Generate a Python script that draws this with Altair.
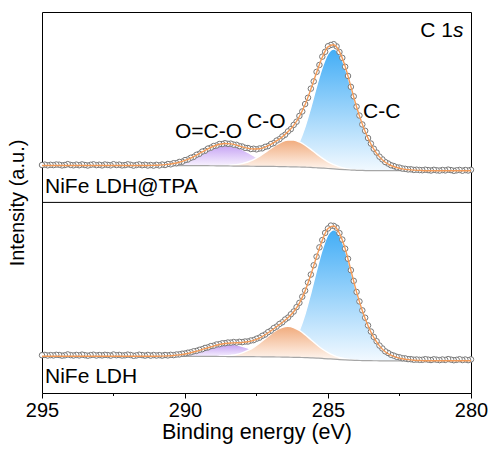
import altair as alt
import numpy as np
import pandas as pd

# ---------------- data (intensity in arbitrary units) ----------------
X_MIN = 280.0
GRID_STEP = 0.2   # eV, grid of the fitted curves
DATA_STEP = 0.1   # eV, measured points
TOP_OFFSET = 190.0  # vertical stacking offset of the upper spectrum

# Shirley background, 280.0 -> 295.0 eV every 0.2 eV
bg_top = [
    31.2, 31.2, 31.2, 31.2, 31.2, 31.2, 31.2, 31.2, 31.2, 31.2,
    31.2, 31.2, 31.2, 31.2, 31.21, 31.22, 31.24, 31.27, 31.34, 31.46,
    31.64, 31.88, 32.20, 32.58, 33.00, 33.41, 33.81, 34.17, 34.46, 34.71,
    34.90, 35.06, 35.19, 35.30, 35.40, 35.48, 35.54, 35.61, 35.67, 35.72,
    35.79, 35.86, 35.93, 36.01, 36.08, 36.16, 36.22, 36.27, 36.31, 36.34,
    36.37, 36.38, 36.39, 36.4, 36.4, 36.4, 36.4, 36.4, 36.4, 36.4,
    36.4, 36.4, 36.4, 36.4, 36.4, 36.4, 36.4, 36.4, 36.4, 36.4,
    36.4, 36.4, 36.4, 36.4, 36.4, 36.4,
]
bg_bot = [
    31.0, 31.0, 31.0, 31.0, 31.0, 31.0, 31.0, 31.0, 31.0, 31.0,
    31.0, 31.0, 31.0, 31.0, 31.01, 31.01, 31.03, 31.07, 31.13, 31.24,
    31.40, 31.62, 31.91, 32.26, 32.64, 33.02, 33.38, 33.70, 33.97, 34.19,
    34.37, 34.51, 34.64, 34.75, 34.84, 34.92, 34.99, 35.05, 35.10, 35.14,
    35.18, 35.23, 35.26, 35.30, 35.34, 35.37, 35.40, 35.42, 35.44, 35.45,
    35.46, 35.47, 35.47, 35.48, 35.49, 35.5, 35.5, 35.5, 35.5, 35.5,
    35.5, 35.5, 35.5, 35.5, 35.5, 35.5, 35.5, 35.5, 35.5, 35.5,
    35.5, 35.5, 35.5, 35.5, 35.5, 35.5,
]

# fitted components: start energy (eV) and heights every 0.2 eV
cc_top_start = 281.8
cc_top = [0.3, 0.6, 1.1, 1.9, 3.2, 5.2, 8.4, 13.8, 21.6, 32.4,
          46.2, 63.0, 82.8, 102.0, 115.2, 120.0, 115.0, 100.9, 81.4, 60.1,
          40.7, 25.3, 14.4, 7.5, 3.6, 1.6, 0.6, 0.24]
co_top_start = 283.8
co_top = [0.16, 0.35, 0.7, 1.4, 2.5, 4.2, 6.7, 10.0, 13.9, 18.1,
          22.0, 25.1, 26.8, 26.8, 25.1, 22.0, 18.1, 13.9, 10.0, 6.7,
          4.2, 2.5, 1.4, 0.7, 0.35, 0.16]
oco_top_start = 286.0
oco_top = [0.15, 0.3, 0.6, 1.1, 2.0, 3.3, 5.1, 7.5, 10.5, 13.7,
           16.8, 19.5, 21.4, 22.0, 21.4, 19.5, 16.8, 13.7, 10.5, 7.5,
           5.1, 3.3, 2.0, 1.1, 0.6, 0.3, 0.15]

cc_bot_start = 281.8
cc_bot = [0.3, 0.6, 1.2, 2.1, 3.5, 5.6, 9.1, 14.9, 23.3, 35.0,
          49.9, 68.0, 89.4, 110.1, 124.3, 129.5, 124.1, 108.9, 87.8, 64.9,
          43.9, 27.3, 15.5, 8.1, 3.9, 1.7, 0.7, 0.26]
co_bot_start = 284.0
co_bot = [0.27, 0.6, 1.2, 2.1, 3.8, 6.2, 9.4, 13.6, 18.2, 22.9,
          27.0, 29.8, 30.8, 29.8, 27.0, 22.9, 18.2, 13.6, 9.4, 6.2,
          3.8, 2.1, 1.2, 0.6, 0.27]
oco_bot_start = 286.0
oco_bot = [0.12, 0.25, 0.47, 0.85, 1.5, 2.4, 3.6, 5.1, 6.9, 8.7,
           10.4, 11.7, 12.4, 12.4, 11.7, 10.4, 8.7, 6.9, 5.1, 3.6,
           2.4, 1.5, 0.85, 0.47, 0.25, 0.12]

# measured spectra, 280.0 -> 295.0 eV every 0.1 eV
meas_top = [
    32.1, 31.4, 31.9, 31.2, 32.0, 31.6, 31.1, 31.8, 32.3, 31.5,
    31.9, 31.3, 31.6, 32.1, 31.4, 31.8, 32.2, 31.7, 31.9, 32.2,
    32.0, 32.6, 32.5, 33.1, 33.4, 34.3, 34.6, 35.9, 36.7, 38.4,
    39.9, 42.6, 45.3, 49.4, 53.2, 58.4, 63.9, 71.1, 77.5, 86.4,
    95.3, 105.6, 115.1, 126.0, 135.2, 144.1, 150.0, 155.6, 157.8, 157.0,
    155.7, 150.2, 145.3, 137.0, 130.1, 120.6, 113.3, 104.2, 97.9, 90.5,
    86.0, 80.2, 77.0, 72.8, 70.5, 67.2, 65.4, 62.7, 61.3, 58.8,
    57.8, 55.7, 55.1, 53.6, 53.4, 52.6, 53.2, 52.9, 53.9, 54.1,
    55.4, 55.8, 57.1, 57.3, 58.3, 58.1, 58.7, 57.9, 57.9, 56.4,
    55.9, 54.2, 53.3, 51.2, 50.3, 48.1, 47.1, 45.0, 44.1, 42.4,
    41.8, 40.2, 40.0, 38.7, 38.7, 37.6, 37.9, 36.9, 37.4, 36.5,
    37.1, 36.3, 36.9, 36.4, 37.2, 36.7, 37.5, 36.9, 36.3, 37.1,
    37.6, 36.8, 36.5, 37.3, 36.9, 37.7, 36.6, 37.0, 37.4, 36.5,
    37.2, 36.8, 37.6, 37.1, 36.4, 36.9, 37.5, 36.7, 37.3, 36.6,
    37.0, 37.8, 36.9, 36.5, 37.2, 37.4, 36.8, 37.1, 36.6, 37.3,
    36.9,
]
meas_bot = [
    32.4, 31.7, 32.3, 31.8, 32.6, 32.0, 31.6, 32.2, 32.7, 31.9,
    32.3, 31.7, 32.1, 32.5, 31.8, 32.2, 32.6, 32.0, 32.0, 32.3,
    32.1, 32.6, 32.7, 33.4, 33.6, 34.5, 35.0, 36.2, 37.1, 38.9,
    40.5, 43.4, 46.3, 50.6, 54.9, 60.3, 66.4, 74.1, 81.5, 90.4,
    99.9, 111.0, 121.7, 133.1, 143.2, 152.3, 158.8, 164.2, 166.0, 166.3,
    163.4, 159.0, 151.8, 144.5, 135.2, 126.6, 117.3, 109.4, 101.2, 95.1,
    89.0, 84.7, 80.3, 77.5, 74.2, 72.3, 69.5, 67.8, 65.2, 63.7,
    61.1, 59.6, 57.3, 56.0, 54.1, 53.1, 51.7, 51.3, 50.3, 50.3,
    49.7, 50.0, 49.3, 49.8, 49.2, 49.3, 48.6, 48.5, 47.6, 47.3,
    46.1, 45.7, 44.4, 43.9, 42.6, 42.0, 40.9, 40.5, 39.5, 39.1,
    38.3, 38.1, 37.4, 37.3, 36.7, 37.0, 36.4, 36.8, 36.2, 36.7,
    36.3, 36.8, 36.2, 36.9, 36.2, 36.7, 37.1, 36.4, 36.0, 36.8,
    37.2, 36.5, 36.3, 36.9, 36.6, 37.3, 36.2, 36.7, 37.0, 36.4,
    36.8, 36.3, 37.1, 36.7, 36.1, 36.6, 37.2, 36.4, 36.9, 36.3,
    36.7, 37.4, 36.5, 36.2, 36.8, 37.0, 36.4, 36.7, 36.3, 36.9,
    36.6,
]

x_ticks = [295, 290, 285, 280]
x_minor = [292.5, 287.5, 282.5]

# ---------------- tables ----------------
grid = np.round(X_MIN + GRID_STEP * np.arange(len(bg_top)), 1)


def place(start, vals):
    arr = np.zeros(len(grid))
    i0 = int(round((start - X_MIN) / GRID_STEP))
    arr[i0:i0 + len(vals)] = vals
    return arr, slice(i0, i0 + len(vals))


panels = {
    "top": dict(off=TOP_OFFSET, bg=bg_top, meas=meas_top,
                comps={"CC": (cc_top_start, cc_top), "CO": (co_top_start, co_top),
                       "OCO": (oco_top_start, oco_top)}),
    "bot": dict(off=0.0, bg=bg_bot, meas=meas_bot,
                comps={"CC": (cc_bot_start, cc_bot), "CO": (co_bot_start, co_bot),
                       "OCO": (oco_bot_start, oco_bot)}),
}

comp_rows, fit_rows, bg_rows, pt_rows = [], [], [], []
for pname, p in panels.items():
    bg = np.array(p["bg"])
    total = bg.copy()
    for cname, (start, vals) in p["comps"].items():
        arr, sl = place(start, vals)
        total = total + arr
        for e, lo, c in zip(grid[sl], bg[sl], arr[sl]):
            comp_rows.append(dict(E=e, lo=lo + p["off"], hi=lo + c + p["off"],
                                  comp=cname, panel=pname))
    for e, b, t in zip(grid, bg, total):
        fit_rows.append(dict(E=e, v=t + p["off"], panel=pname))
        bg_rows.append(dict(E=e, v=b + p["off"], panel=pname))
    for i, m in enumerate(p["meas"]):
        pt_rows.append(dict(E=round(X_MIN + DATA_STEP * i, 1), v=m + p["off"], panel=pname))

comp_df = pd.DataFrame(comp_rows)
fit_df = pd.DataFrame(fit_rows)
bg_df = pd.DataFrame(bg_rows)
pt_df = pd.DataFrame(pt_rows)
minor_df = pd.DataFrame({"E": x_minor})
one = pd.DataFrame({"k": [0]})

FONT = "Liberation Sans"
W, H = 429, 381

xs = alt.Scale(domain=[280, 295], reverse=True, nice=False, zero=False)
ys = alt.Scale(domain=[-1.2, 380], nice=False, zero=False)
x_axis = alt.Axis(values=x_ticks, format="d", title="Binding energy (eV)",
                  tickSize=5, tickColor="black", tickWidth=1, domain=False,
                  labelFontSize=20, titleFontSize=21.5, labelPadding=2, titlePadding=1,
                  labelFlush=False, labelOverlap=False, grid=False)
y_axis = alt.Axis(title="Intensity (a.u.)", labels=False, ticks=False, domain=False,
                  grid=False, titleFontSize=20, titlePadding=15)

X = alt.X("E:Q", scale=xs, axis=x_axis)
Y_title = alt.Y("v:Q", scale=ys, axis=y_axis)


def grad(top, bottom):
    return alt.LinearGradient(
        gradient="linear",
        stops=[alt.GradientStop(color=bottom, offset=0), alt.GradientStop(color=top, offset=1)],
        x1=0, x2=0, y1=1, y2=0,
    )


colors = {"CC": ("#42adf6", "#f2f9ff"), "OCO": ("#c39ef3", "#faf6ff"), "CO": ("#f1ab7c", "#fff8f3")}

layers = []
for cname in ["CC", "OCO", "CO"]:
    top, bottom = colors[cname]
    sub = comp_df[comp_df.comp == cname]
    layers.append(
        alt.Chart(sub).mark_area(color=grad(top, bottom), interpolate="monotone", opacity=1)
        .encode(x=X, y=alt.Y("hi:Q", scale=ys, axis=y_axis), y2="lo:Q", detail="panel:N")
    )
    layers.append(
        alt.Chart(sub).mark_line(color="white", strokeWidth=1.4, interpolate="monotone")
        .encode(x=X, y=alt.Y("hi:Q", scale=ys, axis=y_axis), detail="panel:N")
    )

base_line = alt.Chart(bg_df).mark_line(color="#a6a6a6", strokeWidth=1.2, interpolate="monotone").encode(
    x=X, y=Y_title, detail="panel:N")
points = alt.Chart(pt_df).mark_point(shape="circle", size=30, filled=False, fill="white", fillOpacity=1,
                                     stroke="#777777", strokeWidth=1, opacity=1).encode(x=X, y=Y_title)
fit_line = alt.Chart(fit_df).mark_line(color="#f39a57", strokeWidth=1.4, interpolate="monotone").encode(
    x=X, y=Y_title, detail="panel:N")
divider = alt.Chart(one).mark_rule(color="black", strokeWidth=1).encode(
    y=alt.Y(datum=TOP_OFFSET - 0.5, scale=ys, axis=y_axis))
minor = alt.Chart(minor_df).mark_rule(color="black", strokeWidth=1).encode(
    x=X, y=alt.value(H), y2=alt.value(H + 3))


def label(text, x, y, align="left", style="normal", size=21):
    return alt.Chart(one).mark_text(text=text, align=align, baseline="alphabetic", fontSize=size,
                                    font=FONT, fontStyle=style, color="black").encode(
        x=alt.value(x), y=alt.value(y))


texts = [
    label("C 1", 411, 25, align="right"),
    label("s", 411, 25, align="left", style="italic"),
    label("NiFe LDH@TPA", 3, 181),
    label("NiFe LDH", 3, 371),
    label("O=C-O", 133, 126),
    label("C-O", 205, 116),
    label("C-C", 321, 106),
]

chart = alt.layer(*layers, base_line, points, fit_line, divider, minor, *texts).properties(
    width=W, height=H,
    autosize=alt.AutoSizeParams(type="none"),
    padding={"left": 42, "top": 12, "right": 21, "bottom": 57},
).configure_view(stroke="black", strokeWidth=1).configure_axis(
    labelFont=FONT, titleFont=FONT, labelColor="black", titleColor="black", titleFontWeight="normal"
)

chart.save("out.html", embed_options={"renderer": "svg", "actions": False})
